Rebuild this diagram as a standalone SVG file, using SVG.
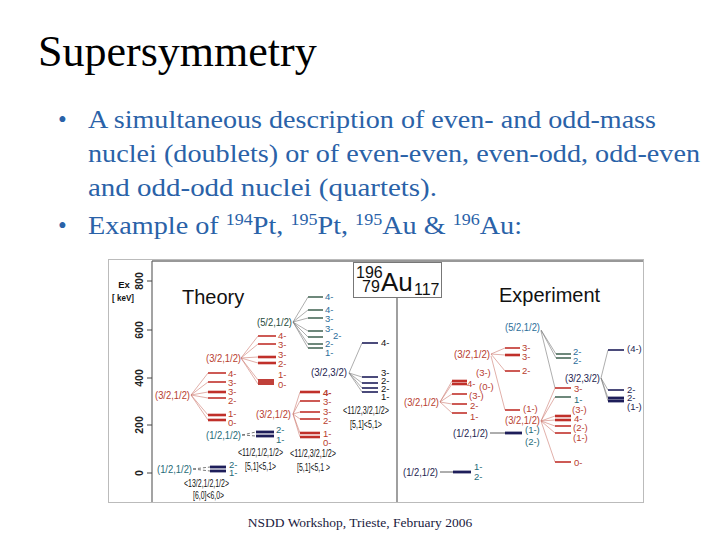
<svg xmlns="http://www.w3.org/2000/svg" width="720" height="540" viewBox="0 0 720 540">
<style>
.ttl{font-family:"Liberation Serif","Times New Roman",serif;font-size:44px;fill:#000}
.bul{font-family:"Liberation Serif","Times New Roman",serif;font-size:25px;fill:#2a62a8}
.sup{font-size:16px}
.foot{font-family:"Liberation Serif","Times New Roman",serif;font-size:13.5px;fill:#1a1a40}
.f{font-family:"Liberation Sans",Arial,sans-serif;font-size:9.5px}
.p{font-family:"Liberation Sans",Arial,sans-serif;font-size:11px}
.q{font-family:"Liberation Sans",Arial,sans-serif;font-size:10.5px;fill:#111}
.big{font-family:"Liberation Sans",Arial,sans-serif;font-size:20px;fill:#111}
.ax{font-family:"Liberation Sans",Arial,sans-serif;font-size:10.5px;fill:#222;font-weight:bold}
.r{fill:#b8402f}.n{fill:#1e1e50}.tl{fill:#1f6b78}.bl{fill:#2b6e9a}.g{fill:#1e4a3a}.k{fill:#111}
.lr{stroke:#c0302a;stroke-width:1.6}
.lrt{stroke:#c0302a;stroke-width:2.6}
.ln{stroke:#1e1e5a;stroke-width:1.6}
.lnt{stroke:#1e1e5a;stroke-width:2.8}
.lg{stroke:#4a6a5a;stroke-width:1.6}
.fr{stroke:#cc7a70;stroke-width:0.6;fill:none}
.fn{stroke:#777;stroke-width:0.6;fill:none}
.fd{stroke:#555;stroke-width:0.8;fill:none;stroke-dasharray:3 2}
</style>
<rect width="720" height="540" fill="#fff"/>
<text class="ttl" x="38" y="66">Supersymmetry</text>
<g id="bullets">
<text class="bul" x="58" y="128">•</text>
<text class="bul" x="88" y="128" textLength="568" lengthAdjust="spacingAndGlyphs">A simultaneous description of even- and odd-mass</text>
<text class="bul" x="88" y="162" textLength="612" lengthAdjust="spacingAndGlyphs">nuclei (doublets) or of even-even, even-odd, odd-even</text>
<text class="bul" x="88" y="196" textLength="349" lengthAdjust="spacingAndGlyphs">and odd-odd nuclei (quartets).</text>
<text class="bul" x="58" y="234">•</text>
<text class="bul" x="88" y="234" textLength="434" lengthAdjust="spacingAndGlyphs">Example of <tspan class="sup" dy="-9">194</tspan><tspan dy="9">Pt, </tspan><tspan class="sup" dy="-9">195</tspan><tspan dy="9">Pt, </tspan><tspan class="sup" dy="-9">195</tspan><tspan dy="9">Au &amp; </tspan><tspan class="sup" dy="-9">196</tspan><tspan dy="9">Au:</tspan></text>
</g>
<g id="frame">
<rect x="108.5" y="259.5" width="535" height="243" fill="#fff" stroke="#bbb" stroke-width="1"/>
<line x1="152" y1="261" x2="643" y2="261" stroke="#333" stroke-width="1.2"/>
<line x1="152" y1="261" x2="152" y2="502" stroke="#666" stroke-width="1.2"/>
<line x1="397" y1="298" x2="397" y2="502" stroke="#888" stroke-width="1.6"/>
<g stroke="#444" stroke-width="1">
<line x1="147" y1="281" x2="152" y2="281"/><line x1="147" y1="330" x2="152" y2="330"/><line x1="147" y1="378" x2="152" y2="378"/><line x1="147" y1="425" x2="152" y2="425"/><line x1="147" y1="473" x2="152" y2="473"/>
</g>
<text class="ax" transform="translate(143,281) rotate(-90)" text-anchor="middle">800</text>
<text class="ax" transform="translate(143,330) rotate(-90)" text-anchor="middle">600</text>
<text class="ax" transform="translate(143,378) rotate(-90)" text-anchor="middle">400</text>
<text class="ax" transform="translate(143,425) rotate(-90)" text-anchor="middle">200</text>
<text class="ax" transform="translate(143,473) rotate(-90)" text-anchor="middle">0</text>
<text class="f k" x="124" y="288" text-anchor="middle" font-weight="bold">Ex</text>
<text class="f k" x="112" y="301" font-weight="bold" textLength="22" lengthAdjust="spacingAndGlyphs">[ keV]</text>
<text class="big" x="182" y="304">Theory</text>
<text class="big" x="499" y="302">Experiment</text>
</g>
<g id="au-box">
<rect x="353.5" y="262.5" width="88" height="35" fill="#fff" stroke="#777" stroke-width="1"/>
<text font-family="Liberation Sans,Arial,sans-serif" font-size="16" fill="#111" x="356" y="278">196</text>
<text font-family="Liberation Sans,Arial,sans-serif" font-size="16" fill="#111" x="362" y="292">79</text>
<text font-family="Liberation Sans,Arial,sans-serif" font-size="26" fill="#111" x="381" y="291">Au</text>
<text font-family="Liberation Sans,Arial,sans-serif" font-size="16" fill="#111" x="414" y="295">117</text>
</g>
<g id="connectors">
<path class="fr" d="M191 395L208 373M191 395L208 382M191 395L208 392M191 395L208 398M191 395L208 415M191 395L208 420"/>
<path class="fr" d="M241 358L258 336M241 358L258 344M241 358L258 357M241 358L258 363M241 358L258 380M241 358L258 384"/>
<path class="fn" d="M293 322L308 297M293 322L308 310M293 322L308 318M293 322L308 331M293 322L308 337M293 322L308 344M293 322L308 348"/>
<path class="fn" d="M349 373L362 343M349 373L362 377M349 373L362 383M349 373L362 388M349 373L362 392"/>
<path class="fr" d="M293 414L300 392M293 414L300 401M293 414L300 412M293 414L300 419M293 414L300 433M293 414L300 437"/>
<path class="fd" d="M242 435L256 432M242 435L256 436"/>
<path class="fd" d="M193 469L210 467M193 469L210 471"/>
<line x1="440" y1="472" x2="453" y2="472" stroke="#333" stroke-width="0.8"/>
<line x1="490" y1="433" x2="505" y2="433" stroke="#333" stroke-width="0.8"/>
<path class="fr" d="M440 402L452 381M440 402L452 384M440 402L452 394M440 402L452 404M440 402L452 413"/>
<path class="fr" d="M491 354L505 348M491 354L505 355M491 354L505 371M491 356L505 410"/>
<path class="fn" d="M541 330L556 354M541 330L556 358M541 331L555 388"/>
<path class="fr" d="M541 421L555 388M541 421L555 397M541 421L555 416M541 421L555 420M541 421L555 426M541 421L555 433M541 421L555 462"/>
<path class="fn" d="M601 378L608 350M601 378L608 390M601 378L608 398M601 378L608 401"/>
</g>
<g id="theory-A">
<text class="p r" x="155" y="399" textLength="35" lengthAdjust="spacingAndGlyphs">(3/2,1/2)</text>
<line class="lr" x1="208" y1="373" x2="226" y2="373"/><line class="lr" x1="208" y1="382" x2="226" y2="382"/><line class="lrt" x1="208" y1="392" x2="226" y2="392"/><line class="lr" x1="208" y1="398" x2="226" y2="398"/><line class="lrt" x1="208" y1="415" x2="226" y2="415"/><line class="lrt" x1="208" y1="420" x2="226" y2="420"/>
<text class="f r" x="228" y="377">4-</text><text class="f r" x="228" y="386">3-</text><text class="f r" x="228" y="395">3-</text><text class="f r" x="228" y="404">2-</text><text class="f r" x="228" y="417">1-</text><text class="f r" x="228" y="426">0-</text>
</g>
<g id="theory-B">
<text class="p r" x="206" y="362" textLength="35" lengthAdjust="spacingAndGlyphs">(3/2,1/2)</text>
<line class="lr" x1="258" y1="336" x2="276" y2="336"/><line class="lr" x1="258" y1="344" x2="276" y2="344"/><line class="lrt" x1="258" y1="357" x2="276" y2="357"/><line class="lrt" x1="258" y1="363" x2="276" y2="363"/>
<rect x="258" y="379" width="16" height="6" fill="#c0403a"/>
<text class="f r" x="278" y="339">4-</text><text class="f r" x="278" y="348">3-</text><text class="f r" x="278" y="358">3-</text><text class="f r" x="278" y="367">2-</text><text class="f r" x="278" y="378">1-</text><text class="f r" x="278" y="388">0-</text>
</g>
<g id="theory-C">
<text class="p g" x="257" y="326" textLength="35" lengthAdjust="spacingAndGlyphs">(5/2,1/2)</text>
<line class="lg" x1="308" y1="297" x2="323" y2="297"/><line class="lg" x1="308" y1="310" x2="323" y2="310"/><line class="lg" x1="308" y1="318" x2="323" y2="318"/><line class="lg" x1="308" y1="331" x2="323" y2="331"/><line class="lg" x1="308" y1="337" x2="323" y2="337"/><line class="lg" x1="308" y1="344" x2="323" y2="344"/><line class="lg" x1="308" y1="348" x2="323" y2="348"/>
<text class="f bl" x="325" y="300">4-</text><text class="f bl" x="325" y="313">4-</text><text class="f bl" x="325" y="322">3-</text><text class="f bl" x="325" y="332">3-</text><text class="f bl" x="333" y="339">2-</text><text class="f bl" x="325" y="347">2-</text><text class="f bl" x="325" y="356">1-</text>
</g>
<g id="theory-D">
<text class="p n" x="311" y="376" textLength="36" lengthAdjust="spacingAndGlyphs">(3/2,3/2)</text>
<line class="ln" x1="362" y1="343" x2="378" y2="343"/><line class="ln" x1="362" y1="377" x2="378" y2="377"/><line class="ln" x1="362" y1="383" x2="378" y2="383"/><line class="ln" x1="362" y1="388" x2="378" y2="388"/><line class="ln" x1="362" y1="392" x2="378" y2="392"/>
<text class="f k" x="381" y="346">4-</text><text class="f k" x="381" y="376">3-</text><text class="f k" x="381" y="384">2-</text><text class="f k" x="381" y="392">2-</text><text class="f k" x="381" y="400">1-</text>
<text class="q" x="343" y="414" textLength="46" lengthAdjust="spacingAndGlyphs">&lt;11/2,3/2,1/2&gt;</text>
<text class="q" x="350" y="428" textLength="32" lengthAdjust="spacingAndGlyphs">[5,1]&lt;5,1&gt;</text>
</g>
<g id="theory-E">
<text class="p r" x="256" y="418" textLength="35" lengthAdjust="spacingAndGlyphs">(3/2,1/2)</text>
<line class="lrt" x1="300" y1="392" x2="320" y2="392"/><line class="lr" x1="300" y1="401" x2="320" y2="401"/><line class="lr" x1="300" y1="412" x2="320" y2="412"/><line class="lr" x1="300" y1="419" x2="320" y2="419"/><line class="lrt" x1="300" y1="433" x2="320" y2="433"/><line class="lrt" x1="300" y1="437" x2="320" y2="437"/>
<text class="f r" x="323" y="396" font-weight="bold">4-</text><text class="f r" x="323" y="405">3-</text><text class="f r" x="323" y="415">3-</text><text class="f r" x="323" y="424">2-</text><text class="f r" x="323" y="437">1-</text><text class="f r" x="323" y="446">0-</text>
<text class="q" x="290" y="457" textLength="46" lengthAdjust="spacingAndGlyphs">&lt;11/2,3/2,1/2&gt;</text>
<text class="q" x="297" y="471" textLength="33" lengthAdjust="spacingAndGlyphs">[5,1]&lt;5,1 &gt;</text>
</g>
<g id="theory-F">
<text class="p tl" x="206" y="439" textLength="35" lengthAdjust="spacingAndGlyphs">(1/2,1/2)</text>
<line class="lnt" x1="256" y1="432" x2="274" y2="432"/><line class="lnt" x1="256" y1="436" x2="274" y2="436"/>
<text class="f tl" x="276" y="433">2-</text><text class="f tl" x="276" y="443">1-</text>
<text class="q" x="238" y="456" textLength="45" lengthAdjust="spacingAndGlyphs">&lt;11/2,1/2,1/2&gt;</text>
<text class="q" x="245" y="470" textLength="31" lengthAdjust="spacingAndGlyphs">[5,1]&lt;5,1&gt;</text>
</g>
<g id="theory-G">
<text class="p tl" x="157" y="473" textLength="35" lengthAdjust="spacingAndGlyphs">(1/2,1/2)</text>
<line class="lnt" x1="210" y1="467" x2="226" y2="467"/><line class="lnt" x1="210" y1="471" x2="226" y2="471"/>
<text class="f tl" x="229" y="468">2-</text><text class="f tl" x="229" y="476">1-</text>
<text class="q" x="184" y="487" textLength="45" lengthAdjust="spacingAndGlyphs">&lt;13/2,1/2,1/2&gt;</text>
<text class="q" x="193" y="499" textLength="31" lengthAdjust="spacingAndGlyphs">[6,0]&lt;6,0&gt;</text>
</g>
<g id="exp-H">
<text class="p n" x="403" y="476" textLength="35" lengthAdjust="spacingAndGlyphs">(1/2,1/2)</text>
<line class="lnt" x1="453" y1="472" x2="471" y2="472"/>
<text class="f tl" x="474" y="470">1-</text><text class="f tl" x="474" y="480">2-</text>
</g>
<g id="exp-I">
<text class="p n" x="453" y="437" textLength="35" lengthAdjust="spacingAndGlyphs">(1/2,1/2)</text>
<line class="lnt" x1="505" y1="433" x2="522" y2="433"/>
<text class="f tl" x="525" y="433">(1-)</text><text class="f tl" x="525" y="445">(2-)</text>
</g>
<g id="exp-J">
<text class="p r" x="404" y="406" textLength="35" lengthAdjust="spacingAndGlyphs">(3/2,1/2)</text>
<line class="lrt" x1="452" y1="381" x2="467" y2="381"/><line class="lrt" x1="452" y1="384" x2="467" y2="384"/><line class="lr" x1="452" y1="394" x2="467" y2="394"/><line class="lr" x1="452" y1="404" x2="467" y2="404"/><line class="lr" x1="452" y1="413" x2="467" y2="413"/>
<text class="f r" x="476" y="376">(3-)</text><text class="f r" x="467" y="387">4-</text><text class="f r" x="479" y="390">(0-)</text><text class="f r" x="469" y="399">(3-)</text><text class="f r" x="470" y="409">2-</text><text class="f r" x="470" y="420">1-</text>
</g>
<g id="exp-K">
<text class="p r" x="454" y="358" textLength="36" lengthAdjust="spacingAndGlyphs">(3/2,1/2)</text>
<line class="lr" x1="505" y1="348" x2="520" y2="348"/><line class="lrt" x1="505" y1="355" x2="520" y2="355"/><line class="lr" x1="505" y1="371" x2="520" y2="371"/>
<text class="f r" x="522" y="351">3-</text><text class="f r" x="522" y="360">3-</text><text class="f r" x="522" y="374">2-</text>
<line class="lr" x1="505" y1="410" x2="520" y2="410"/>
<text class="f r" x="523" y="412">(1-)</text>
</g>
<g id="exp-52">
<text class="p bl" x="505" y="331" textLength="35" lengthAdjust="spacingAndGlyphs">(5/2,1/2)</text>
<line class="lg" x1="556" y1="354" x2="571" y2="354"/><line class="lg" x1="556" y1="358" x2="571" y2="358"/>
<text class="f bl" x="573" y="355">2-</text><text class="f bl" x="573" y="364">2-</text>
</g>
<g id="exp-M">
<text class="p n" x="565" y="382" textLength="35" lengthAdjust="spacingAndGlyphs">(3/2,3/2)</text>
<line class="ln" x1="608" y1="350" x2="624" y2="350"/><line class="ln" x1="608" y1="390" x2="624" y2="390"/><line class="lnt" x1="608" y1="398" x2="624" y2="398"/><line class="lnt" x1="608" y1="401" x2="624" y2="401"/>
<text class="f n" x="627" y="352">(4-)</text><text class="f n" x="627" y="393">2-</text><text class="f n" x="627" y="401">2-</text><text class="f n" x="627" y="410">(1-)</text>
</g>
<g id="exp-L">
<text class="p r" x="505" y="424" textLength="35" lengthAdjust="spacingAndGlyphs">(3/2,1/2)</text>
<line class="lr" x1="555" y1="388" x2="571" y2="388"/><line class="lg" x1="555" y1="397" x2="571" y2="397"/>
<text class="f r" x="574" y="392">3-</text><text class="f tl" x="574" y="403">1-</text>
<line class="lrt" x1="555" y1="416" x2="571" y2="416"/><line class="lrt" x1="555" y1="420" x2="571" y2="420"/><line class="lr" x1="555" y1="426" x2="571" y2="426"/><line class="lr" x1="555" y1="433" x2="571" y2="433"/><line class="lr" x1="555" y1="462" x2="571" y2="462"/>
<text class="f r" x="572" y="413">(3-)</text><text class="f r" x="574" y="422">4-</text><text class="f r" x="573" y="431">(2-)</text><text class="f r" x="573" y="441">(1-)</text><text class="f r" x="574" y="466">0-</text>
</g>
<text class="foot" x="360" y="527" text-anchor="middle">NSDD Workshop, Trieste, February 2006</text>
</svg>
